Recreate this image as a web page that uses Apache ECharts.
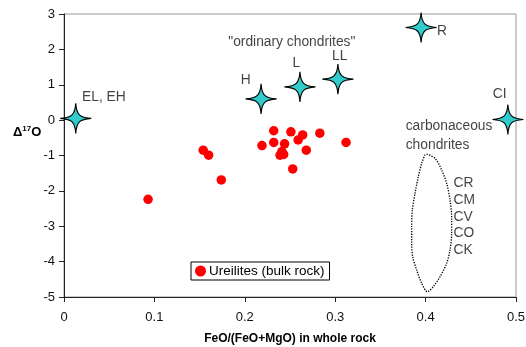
<!DOCTYPE html>
<html><head><meta charset="utf-8">
<script src="https://cdn.jsdelivr.net/npm/echarts@6/dist/echarts.min.js"></script>
<style>html,body{margin:0;padding:0;background:#fff}#c{width:526px;height:347px}</style>
</head><body><div id="c"></div>
<script>
// Ureilites (bulk rock): [FeO/(FeO+MgO), Δ17O]
const ureilites = [
  [0.232,-0.30],[0.251,-0.33],[0.264,-0.42],[0.283,-0.37],[0.312,-0.63],
  [0.219,-0.72],[0.232,-0.63],[0.244,-0.67],[0.259,-0.56],[0.268,-0.85],
  [0.241,-0.89],[0.239,-0.99],[0.243,-0.97],[0.253,-1.38],[0.154,-0.85],
  [0.160,-0.99],[0.174,-1.69],[0.093,-2.24]
];
// Chondrite groups (stars)
const chondriteNames = ["EL, EH","H","L","LL","R","CI"];
const chondriteX = [0.013,0.218,0.261,0.303,0.395,0.491];
const chondriteY = [0.05,0.60,0.94,1.16,2.62,0.02];
// Carbonaceous chondrite field outline (dotted)
const carbField = [
  [0.4012,-0.958],[0.4104,-1.081],[0.4178,-1.411],[0.4233,-1.787],[0.4270,-2.259],
  [0.4288,-2.730],[0.4288,-3.201],[0.4270,-3.672],[0.4233,-4.049],[0.4159,-4.426],
  [0.4085,-4.709],[0.4019,-4.850],[0.3957,-4.614],[0.3901,-4.237],[0.3857,-3.861],
  [0.3846,-3.484],[0.3846,-3.013],[0.3853,-2.541],[0.3883,-2.070],[0.3919,-1.599],
  [0.3957,-1.222],[0.3993,-0.987],[0.4012,-0.958]
];
// Text annotations: [x, y, text, align]
const annotations = [
  [0.020,0.65,"EL, EH","left"],
  [0.252,2.21,"\"ordinary chondrites\"","center"],
  [0.201,1.13,"H","center"],
  [0.257,1.61,"L","center"],
  [0.305,1.81,"LL","center"],
  [0.4126,2.52,"R","left"],
  [0.482,0.74,"CI","center"],
  [0.378,-0.17,"carbonaceous","left"],
  [0.378,-0.71,"chondrites","left"],
  [0.431,-1.78,"CR","left"],
  [0.431,-2.26,"CM","left"],
  [0.431,-2.74,"CV","left"],
  [0.431,-3.19,"CO","left"],
  [0.431,-3.67,"CK","left"]
];
const xTicks = [0,0.1,0.2,0.3,0.4,0.5];
const yTicks = [-5,-4,-3,-2,-1,0,1,2,3];

const FONT = '"Liberation Sans", Arial, sans-serif';
const starPath = 'path://M0,-10 C0.5,-2.5 2.5,-0.5 10,0 C2.5,0.5 0.5,2.5 0,10 C-0.5,2.5 -2.5,0.5 -10,0 C-2.5,-0.5 -0.5,-2.5 0,-10 Z';

const chart = echarts.init(document.getElementById('c'), null, {renderer:'canvas'});
chart.setOption({
  animation:false,
  textStyle:{fontFamily:FONT},
  grid:{left:64,top:14,right:10,bottom:50,containLabel:false,outerBoundsMode:'none',
    show:true,borderColor:'#999',borderWidth:1,backgroundColor:'transparent'},
  xAxis:{
    type:'value',min:xTicks[0],max:xTicks[xTicks.length-1],interval:0.1,
    name:'FeO/(FeO+MgO) in whole rock',nameLocation:'middle',nameGap:36,
    nameTextStyle:{fontFamily:FONT,fontSize:12,fontWeight:'bold',color:'#000'},
    axisLine:{show:true,onZero:false,lineStyle:{color:'#222',width:1}},
    axisTick:{show:true,inside:false,length:5,lineStyle:{color:'#222'}},
    axisLabel:{fontFamily:FONT,fontSize:13,color:'#111',margin:14,formatter:v=>String(+v.toFixed(1))},
    splitLine:{show:false}
  },
  yAxis:{
    type:'value',min:yTicks[0],max:yTicks[yTicks.length-1],interval:1,
    axisLine:{show:true,onZero:false,lineStyle:{color:'#222',width:1}},
    axisTick:{show:true,inside:false,length:5,lineStyle:{color:'#222'}},
    axisLabel:{fontFamily:FONT,fontSize:13,color:'#111',margin:9},
    splitLine:{show:false}
  },
  legend:{
    data:[{name:'Ureilites (bulk rock)',icon:'circle'}],
    left:191,top:262,orient:'horizontal',
    borderColor:'#000',borderWidth:1,padding:[2,5,2,4],
    itemWidth:11,itemHeight:11,itemGap:4,
    textStyle:{fontFamily:FONT,fontSize:13.5,color:'#000',padding:[0,0,0,-2]}
  },
  graphic:[{
    type:'text',left:13,top:125,
    style:{
      text:'{a|Δ}{s|17}{a|O}',
      rich:{
        a:{fontFamily:FONT,fontSize:13,fontWeight:'bold',fill:'#000',verticalAlign:'bottom'},
        s:{fontFamily:FONT,fontSize:8,fontWeight:'bold',fill:'#000',verticalAlign:'top',padding:[0,0,6,0]}
      }
    }
  }],
  series:[
    {
      type:'line',name:'field',data:carbField,showSymbol:false,symbol:'none',smooth:0.3,
      lineStyle:{color:'#000',width:1.3,type:[1.3,1.3]},silent:true,z:1
    },
    {
      type:'scatter',name:'Ureilites (bulk rock)',data:ureilites,symbol:'circle',symbolSize:9.5,
      itemStyle:{color:'#ff0000',opacity:1},z:3
    },
    {
      type:'scatter',name:'chondrites',
      data:chondriteX.map((x,i)=>({name:chondriteNames[i],value:[x,chondriteY[i]]})),
      symbol:starPath,symbolSize:[31,30],
      itemStyle:{color:'#33cccc',borderColor:'#000',borderWidth:1.1,opacity:1},z:4
    },
    {
      type:'scatter',name:'labels',symbolSize:0,silent:true,z:5,
      data:annotations.map(a=>({value:[a[0],a[1]],label:{show:true,position:'inside',formatter:a[2],align:a[3],
        fontFamily:FONT,fontSize:13.8,color:'#111',
        backgroundColor:a[2]==='carbonaceous'?'#fff':'transparent'}}))
    }
  ]
});
</script></body></html>
